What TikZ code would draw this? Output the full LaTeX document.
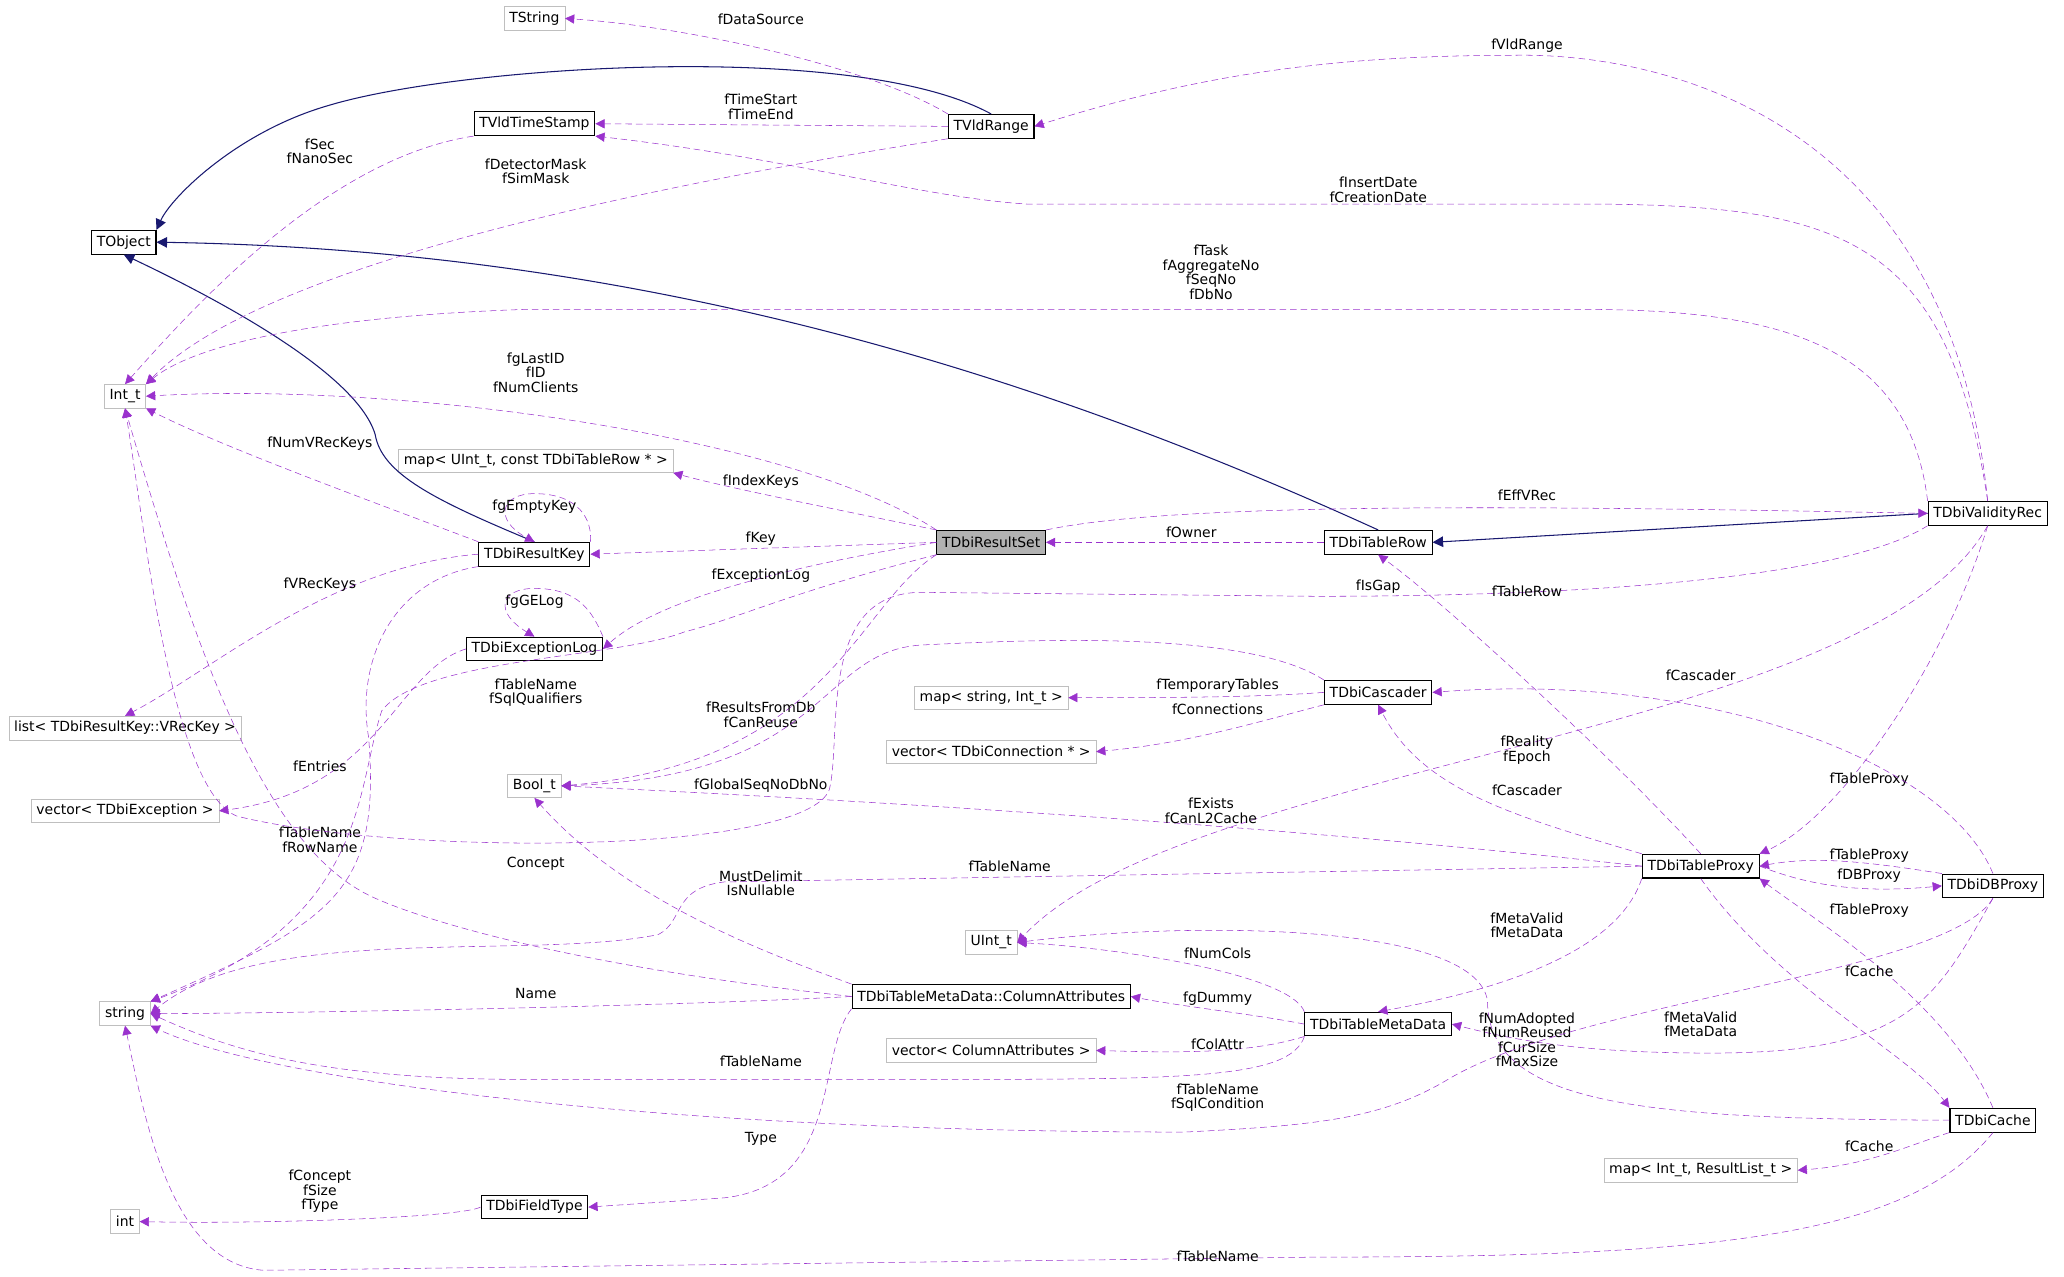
\documentclass[tikz,border=0pt]{standalone}
\usepackage{fontspec}
\setmainfont{DejaVu Sans}
\usetikzlibrary{arrows.meta}
\definecolor{usecol}{HTML}{9A32CD}
\definecolor{inhcol}{HTML}{191970}
\definecolor{extcol}{HTML}{BFBFBF}
\begin{document}
\begin{tikzpicture}[x=1pt, y=-1pt, font=\fontsize{10.6}{11.5}\selectfont,
    cls/.style={draw=black, thick, fill=white, inner xsep=4pt, minimum height=18pt, inner ysep=1pt},
    ext/.style={draw=extcol, fill=white, inner xsep=4pt, minimum height=18pt, inner ysep=1pt},
    inh/.style={inhcol, thick, -{Triangle[length=8pt,width=8pt]}},
    use/.style={usecol, dash pattern=on 5pt off 3pt, -{Triangle[length=7pt,width=7pt]}},
    lbl/.style={align=center, inner sep=0pt, text=black, font=\fontsize{10.6}{11}\selectfont}]

    \useasboundingbox (0,0) rectangle (1568,970);

    % classes and external types
    \node[ext] (tstring) at (406,14) {TString};
    \node[cls] (tvldts) at (406,94) {TVldTimeStamp};
    \node[cls] (tvldrange) at (753,96) {TVldRange};
    \node[cls] (tobject) at (94,184) {TObject};
    \node[ext] (intt) at (95,301) {Int\_t};
    \node[ext] (mapuint) at (407,350) {map< UInt\_t, const TDbiTableRow * >};
    \node[cls, fill=black!30] (resultset) at (753,412) {TDbiResultSet};
    \node[cls] (resultkey) at (406,421) {TDbiResultKey};
    \node[cls] (tablerow) at (1047,412) {TDbiTableRow};
    \node[cls] (validrec) at (1510,390) {TDbiValidityRec};
    \node[cls] (exclog) at (406,493) {TDbiExceptionLog};
    \node[ext] (listvrec) at (95,553) {list< TDbiResultKey::VRecKey >};
    \node[ext] (vecexc) at (95,616) {vector< TDbiException >};
    \node[ext] (boolt) at (406,597) {Bool\_t};
    \node[ext] (mapstr) at (753,530) {map< string, Int\_t >};
    \node[ext] (vecconn) at (753,571) {vector< TDbiConnection * >};
    \node[cls] (cascader) at (1047,526) {TDbiCascader};
    \node[cls] (tableproxy) at (1292,658) {TDbiTableProxy};
    \node[cls] (dbproxy) at (1514,673) {TDbiDBProxy};
    \node[ext] (uintt) at (753,716) {UInt\_t};
    \node[ext] (string) at (95,770) {string};
    \node[cls] (colattr) at (753,757) {TDbiTableMetaData::ColumnAttributes};
    \node[cls] (metadata) at (1047,778) {TDbiTableMetaData};
    \node[ext] (veccol) at (753,798) {vector< ColumnAttributes >};
    \node[cls] (cache) at (1514,851) {TDbiCache};
    \node[ext] (mapint) at (1292,889) {map< Int\_t, ResultList\_t >};
    \node[ext] (intx) at (95,928) {int};
    \node[cls] (fieldtype) at (406,917) {TDbiFieldType};

    % inheritance
    \draw[inh] (tvldrange.north) .. controls (650,30) and (350,50) .. (250,80) .. controls (180,100) and (130,150) .. (tobject.north east);
    \draw[inh] (resultkey.north) .. controls (330,380) and (290,360) .. (285,330) .. controls (270,280) and (150,220) .. (tobject.south);
    \draw[inh] (tablerow.north) .. controls (800,290) and (500,190) .. (tobject.east);
    \draw[inh] (validrec.west) -- (tablerow.east);

    % usage
    \draw[use] (tvldrange.north west) .. controls (660,50) and (520,20) .. (tstring.east) node[lbl] at (578,15) {fDataSource};
    \draw[use] (tvldrange.west) -- (tvldts.east) node[lbl] at (578,81) {fTimeStart\\fTimeEnd};
    \draw[use] (tvldrange.south west) .. controls (500,140) and (200,200) .. (intt.north east) node[lbl] at (407,130) {fDetectorMask\\fSimMask};
    \draw[use] (tvldts.south west) .. controls (250,120) and (150,230) .. (intt.north) node[lbl] at (243,115) {fSec\\fNanoSec};
    \draw[use] (validrec.north) .. controls (1480,80) and (1250,40) .. (1150,42) .. controls (1000,42) and (900,60) .. (tvldrange.east) node[lbl] at (1160,35) {fVldRange};
    \draw[use] (validrec.north) .. controls (1480,180) and (1400,155) .. (1200,155) -- (780,155) .. controls (700,150) and (600,120) .. (tvldts.south east) node[lbl] at (1047,144) {fInsertDate\\fCreationDate};
    \draw[use] (validrec.north west) .. controls (1450,260) and (1350,235) .. (1200,235) -- (400,235) .. controls (250,240) and (150,260) .. (intt.north east) node[lbl] at (920,207) {fTask\\fAggregateNo\\fSeqNo\\fDbNo};
    \draw[use] (resultset.north west) .. controls (600,330) and (300,290) .. (intt.east) node[lbl] at (407,283) {fgLastID\\fID\\fNumClients};
    \draw[use] (resultkey.north west) .. controls (280,380) and (170,340) .. (intt.south east) node[lbl] at (243,337) {fNumVRecKeys};
    \draw[use] (resultset.north west) .. controls (650,390) and (550,370) .. (mapuint.south east) node[lbl] at (578,366) {fIndexKeys};
    \draw[use] (resultset.west) -- (resultkey.east) node[lbl] at (578,409) {fKey};
    \draw[use] (resultkey.north east) .. controls (450,395) and (440,375) .. (406,375) .. controls (380,375) and (375,395) .. (resultkey.north) node[lbl] at (406,385) {fgEmptyKey};
    \draw[use] (resultkey.west) .. controls (250,430) and (160,510) .. (listvrec.north) node[lbl] at (243,444) {fVRecKeys};
    \draw[use] (resultkey.south west) .. controls (300,440) and (270,500) .. (280,560) .. controls (290,680) and (250,700) .. (string.north east) node[lbl] at (243,638) {fTableName\\fRowName};
    \draw[use] (resultset.south west) .. controls (600,450) and (560,470) .. (520,480) .. controls (470,500) and (320,500) .. (290,540) .. controls (270,600) and (280,700) .. (string.north east) node[lbl] at (407,526) {fTableName\\fSqlQualifiers};
    \draw[use] (resultset.south west) .. controls (650,460) and (630,580) .. (boolt.east) node[lbl] at (578,543) {fResultsFromDb\\fCanReuse};
    \draw[use] (resultset.west) .. controls (600,430) and (500,455) .. (exclog.east) node[lbl] at (578,437) {fExceptionLog};
    \draw[use] (exclog.north east) .. controls (450,465) and (440,447) .. (406,447) .. controls (380,447) and (375,465) .. (exclog.north) node[lbl] at (406,457) {fgGELog};
    \draw[use] (exclog.west) .. controls (300,510) and (290,600) .. (vecexc.east) node[lbl] at (243,582) {fEntries};
    \draw[use] (tablerow.west) -- (resultset.east) node[lbl] at (905,404) {fOwner};
    \draw[use] (resultset.north east) .. controls (900,380) and (1200,385) .. (validrec.west) node[lbl] at (1160,376) {fEffVRec};
    \draw[use] (validrec.south west) .. controls (1400,440) and (1200,453) .. (1000,453) -- (700,450) .. controls (620,450) and (640,560) .. (630,600) .. controls (610,650) and (300,650) .. (180,620) .. controls (130,600) and (110,400) .. (intt.south) node[lbl] at (1047,446) {fIsGap};
    \draw[use] (cascader.north west) .. controls (950,480) and (800,485) .. (700,490) .. controls (620,495) and (630,590) .. (boolt.east) node[lbl] at (578,597) {fGlobalSeqNoDbNo};
    \draw[use] (validrec.south) .. controls (1480,500) and (1400,620) .. (tableproxy.north east) node[lbl] at (1420,592) {fTableProxy};
    \draw[use] (validrec.south) .. controls (1420,560) and (900,580) .. (uintt.east) node[lbl] at (1160,570) {fReality\\fEpoch};
    \draw[use] (tableproxy.north) .. controls (1230,580) and (1100,460) .. (tablerow.south) node[lbl] at (1160,449) {fTableRow};
    \draw[use] (cascader.west) .. controls (950,530) and (880,530) .. (mapstr.east) node[lbl] at (925,521) {fTemporaryTables};
    \draw[use] (cascader.south west) .. controls (950,550) and (900,565) .. (vecconn.east) node[lbl] at (925,539) {fConnections};
    \draw[use] (tableproxy.north west) .. controls (1150,620) and (1080,600) .. (cascader.south) node[lbl] at (1160,600) {fCascader};
    \draw[use] (dbproxy.north) .. controls (1480,580) and (1300,510) .. (cascader.east) node[lbl] at (1292,513) {fCascader};
    \draw[use] (tableproxy.west) .. controls (1000,630) and (700,610) .. (boolt.east) node[lbl] at (920,616) {fExists\\fCanL2Cache};
    \draw[use] (tableproxy.west) -- (550,670) .. controls (510,675) and (520,700) .. (500,710) .. controls (400,730) and (200,700) .. (string.east) node[lbl] at (767,658) {fTableName};
    \draw[use] (dbproxy.north west) .. controls (1420,655) and (1380,650) .. (tableproxy.east) node[lbl] at (1420,650) {fTableProxy};
    \draw[use] (tableproxy.east) .. controls (1380,675) and (1420,678) .. (dbproxy.west) node[lbl] at (1420,665) {fDBProxy};
    \draw[use] (cache.north) .. controls (1480,760) and (1380,700) .. (tableproxy.south east) node[lbl] at (1420,692) {fTableProxy};
    \draw[use] (tableproxy.south west) .. controls (1230,720) and (1150,750) .. (metadata.north) node[lbl] at (1160,703) {fMetaValid\\fMetaData};
    \draw[use] (tableproxy.south) .. controls (1350,750) and (1450,800) .. (cache.north west) node[lbl] at (1420,738) {fCache};
    \draw[use] (dbproxy.south) .. controls (1470,760) and (1450,800) .. (1300,800) .. controls (1200,800) and (1150,790) .. (metadata.east) node[lbl] at (1292,778) {fMetaValid\\fMetaData};
    \draw[use] (metadata.north west) .. controls (980,740) and (850,720) .. (uintt.east) node[lbl] at (925,724) {fNumCols};
    \draw[use] (cache.west) .. controls (1250,850) and (1130,840) .. (1130,760) .. controls (1120,700) and (900,700) .. (uintt.east) node[lbl] at (1160,790) {fNumAdopted\\fNumReused\\fCurSize\\fMaxSize};
    \draw[use] (metadata.west) .. controls (950,770) and (900,765) .. (colattr.east) node[lbl] at (925,759) {fgDummy};
    \draw[use] (metadata.south west) .. controls (950,800) and (900,800) .. (veccol.east) node[lbl] at (925,793) {fColAttr};
    \draw[use] (metadata.south west) .. controls (980,820) and (900,820) .. (700,820) -- (400,820) .. controls (250,820) and (180,800) .. (string.east) node[lbl] at (578,806) {fTableName};
    \draw[use] (colattr.west) .. controls (500,765) and (200,770) .. (string.east) node[lbl] at (407,755) {Name};
    \draw[use] (colattr.north west) .. controls (600,730) and (480,690) .. (boolt.south) node[lbl] at (578,671) {MustDelimit\\IsNullable};
    \draw[use] (colattr.west) .. controls (400,730) and (300,690) .. (280,680) .. controls (200,640) and (150,500) .. (intt.south) node[lbl] at (407,656) {Concept};
    \draw[use] (colattr.south west) .. controls (620,800) and (640,900) .. (550,910) -- (fieldtype.east) node[lbl] at (578,865) {Type};
    \draw[use] (dbproxy.south) .. controls (1480,740) and (1200,760) .. (1100,820) .. controls (1050,850) and (1000,855) .. (900,860) .. controls (500,860) and (200,820) .. (string.south east) node[lbl] at (925,834) {fTableName\\fSqlCondition};
    \draw[use] (cache.south west) .. controls (1450,870) and (1420,885) .. (mapint.east) node[lbl] at (1420,871) {fCache};
    \draw[use] (cache.south) .. controls (1450,940) and (1300,955) .. (1000,955) -- (200,965) .. controls (130,960) and (110,850) .. (string.south) node[lbl] at (925,954) {fTableName};
    \draw[use] (fieldtype.west) .. controls (350,925) and (200,930) .. (intx.east) node[lbl] at (243,905) {fConcept\\fSize\\fType};

\end{tikzpicture}
\end{document}
